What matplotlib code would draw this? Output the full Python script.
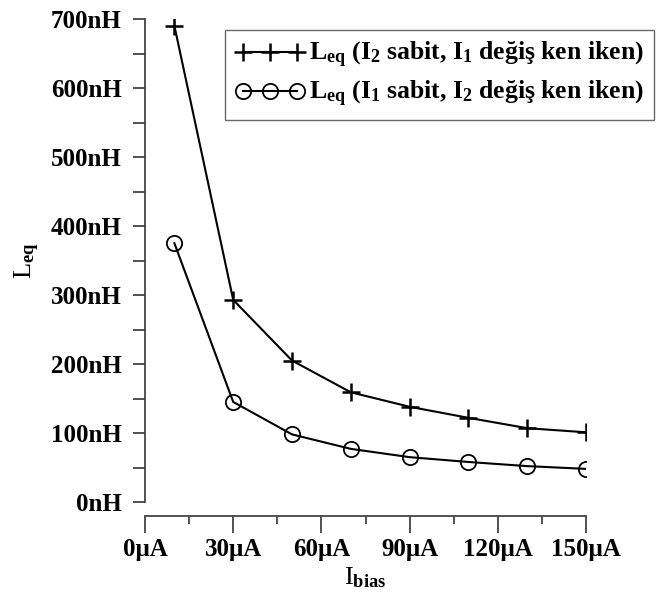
import numpy as np
import matplotlib
matplotlib.use('Agg')
import matplotlib.pyplot as plt
from matplotlib.ticker import MultipleLocator, FuncFormatter

plt.rcParams['font.family'] = 'Liberation Serif'
plt.rcParams['font.weight'] = 'bold'
plt.rcParams['mathtext.fontset'] = 'custom'
plt.rcParams['mathtext.rm'] = 'Liberation Serif:bold'
plt.rcParams['mathtext.it'] = 'Liberation Serif:bold'
plt.rcParams['mathtext.bf'] = 'Liberation Serif:bold'

i_bias = [10, 30, 50, 70, 90, 110, 130, 150]
leq_i1_var = [690, 293, 205, 159, 138, 122, 107, 101]
leq_i2_var = [375, 145, 98, 77, 65, 58, 52, 48]

label_i1 = r'L$_{\mathrm{eq}}$ (I$_2$ sabit, I$_1$ değiş ken iken)'
label_i2 = r'L$_{\mathrm{eq}}$ (I$_1$ sabit, I$_2$ değiş ken iken)'

fig = plt.figure(figsize=(6.65, 6.06), dpi=100)
ax = fig.add_axes([145 / 665, 1 - 502 / 606, (586 - 145) / 665, (502 - 19) / 606])

ax.plot(i_bias, leq_i1_var, color='black', lw=1.5, marker='+', ms=13, mew=1.8,
        label=label_i1)
ax.plot(i_bias, leq_i2_var, color='black', lw=1.5, marker='o', ms=11, mew=1.3,
        mfc='none', label=label_i2)

ax.set_xlim(0, 150)
ax.set_ylim(0, 700)
ax.xaxis.set_major_locator(MultipleLocator(30))
ax.xaxis.set_minor_locator(MultipleLocator(15))
ax.yaxis.set_major_locator(MultipleLocator(100))
ax.yaxis.set_minor_locator(MultipleLocator(50))
ax.xaxis.set_major_formatter(FuncFormatter(lambda v, p: '%dμA' % v))
ax.yaxis.set_major_formatter(FuncFormatter(lambda v, p: '%dnH' % v))

for s in ['top', 'right']:
    ax.spines[s].set_visible(False)
for s in ['left', 'bottom']:
    ax.spines[s].set_color('#444444')
    ax.spines[s].set_linewidth(1.3)
ax.spines['bottom'].set_position(('outward', 10))

ax.tick_params(axis='both', which='both', color='#444444', width=1.3, labelsize=18)
ax.tick_params(axis='y', which='both', length=9, pad=8)
ax.tick_params(axis='x', which='major', length=12, pad=4)
ax.tick_params(axis='x', which='minor', length=6)

ax.set_xlabel(r'I$_{\mathrm{bias}}$', fontsize=19, labelpad=3)
ax.set_ylabel(r'L$_{\mathrm{eq}}$', fontsize=19, labelpad=6)

leg = ax.legend(loc='upper left', bbox_to_anchor=(225 / 665, 1 - 30 / 606),
                bbox_transform=fig.transFigure, numpoints=3, fontsize=18.5,
                frameon=True, fancybox=False, handlelength=2.7, handletextpad=0.15,
                borderpad=0.4, labelspacing=0.35, borderaxespad=0)
leg.get_frame().set_edgecolor('#444444')
leg.get_frame().set_linewidth(1.0)

plt.savefig('out.png', dpi=100)
